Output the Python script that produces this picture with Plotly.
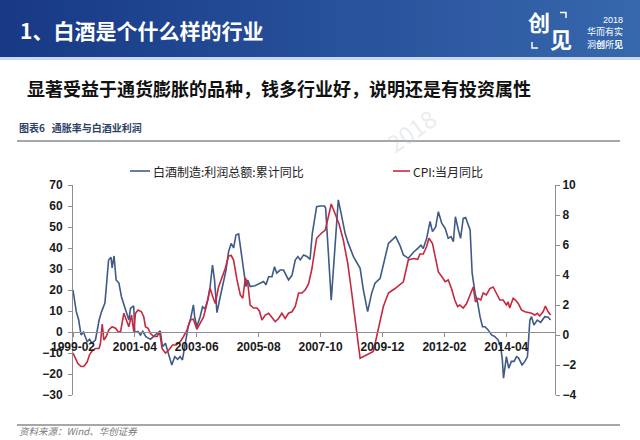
import plotly.graph_objects as go

# ---------------- data ----------------
tick_dates = ["1999-02-01", "2001-04-01", "2003-06-01", "2005-08-01",
              "2007-10-01", "2009-12-01", "2012-02-01", "2014-04-01"]
tick_labels = ["1999-02", "2001-04", "2003-06", "2005-08",
               "2007-10", "2009-12", "2012-02", "2014-04"]

series_names = ["白酒制造:利润总额:累计同比", "CPI:当月同比"]

liquor_dates = [
    "1999-02-01", "1999-03-15", "1999-04-15", "1999-05-15", "1999-06-15", "1999-08-01", "1999-09-01",
    "1999-10-01", "1999-11-15", "2000-01-01", "2000-02-01", "2000-03-15", "2000-05-01", "2000-06-01",
    "2000-06-15", "2000-07-10", "2000-08-05", "2000-09-10", "2000-10-12", "2000-11-12", "2000-12-10",
    "2001-01-15", "2001-02-05", "2001-03-18", "2001-04-01", "2001-05-12", "2001-06-12", "2001-07-12",
    "2001-08-20", "2001-10-18", "2001-12-01", "2002-01-25", "2002-02-20", "2002-03-20", "2002-04-28",
    "2002-06-10", "2002-07-18", "2002-08-25", "2002-10-01", "2002-11-01", "2002-12-01", "2003-01-06",
    "2003-02-12", "2003-03-12", "2003-04-20", "2003-05-06", "2003-06-03", "2003-07-15", "2003-08-15",
    "2003-09-15", "2003-10-20", "2003-11-20", "2003-12-20", "2004-01-15", "2004-02-15", "2004-03-28",
    "2004-05-10", "2004-06-10", "2004-07-12", "2004-08-15", "2004-09-15", "2004-10-15", "2004-11-18",
    "2004-12-20", "2005-01-20", "2005-02-20", "2005-03-15", "2005-04-15", "2005-06-15", "2005-08-18",
    "2005-10-03", "2005-11-03", "2005-12-06", "2006-01-18", "2006-02-20", "2006-03-20", "2006-05-03",
    "2006-06-15", "2006-07-12", "2006-08-18", "2006-10-01", "2006-11-12", "2006-12-15", "2007-01-15",
    "2007-02-27", "2007-04-10", "2007-05-20", "2007-06-18", "2007-08-12", "2007-09-25", "2007-11-20",
    "2007-12-05", "2008-02-15", "2008-05-15", "2008-06-20", "2008-08-10", "2008-09-20", "2008-11-25",
    "2009-02-18", "2009-04-01", "2009-05-25", "2009-07-15", "2009-08-27", "2009-11-01", "2010-02-15",
    "2010-03-27", "2010-05-18", "2010-07-15", "2010-08-25", "2010-10-27", "2011-01-01", "2011-02-25",
    "2011-04-06", "2011-05-06", "2011-06-18", "2011-08-01", "2011-09-01", "2011-10-12", "2011-11-15",
    "2011-12-28", "2012-02-10", "2012-03-20", "2012-04-25", "2012-05-25", "2012-06-20", "2012-07-28",
    "2012-08-25", "2012-09-28", "2012-10-28", "2012-12-25", "2013-01-20", "2013-02-27", "2013-04-01",
    "2013-05-01", "2013-06-01", "2013-07-03", "2013-08-12", "2013-09-25", "2013-11-06", "2013-12-18",
    "2014-01-20", "2014-02-10", "2014-02-25", "2014-04-03", "2014-05-03", "2014-06-06", "2014-07-10",
    "2014-08-10", "2014-09-06", "2014-10-20", "2014-11-25", "2014-12-28", "2015-01-28", "2015-02-18",
    "2015-03-20", "2015-05-03", "2015-06-15", "2015-08-06", "2015-09-18", "2015-10-20",
]
liquor_profit_yoy = [
    20, 9.7, 5.7, -1.4, 0, -4.6, -3.5,
    -5.3, -3.8, 5.7, 9.7, 13.8, 34.3, 35.6,
    30.5, 36.2, 24.8, 23.3, 16.8, 12.9, 9.7,
    5.7, 11.3, 12.4, -0.3, 0.3, -1.4, 0.3,
    -2.2, -3.5, -2, -0.3, 0.5, -7, -5.4,
    -11, -15.7, -11.7, -13, -11.7, -13.3, -5.4,
    2.5, 5.7, 12.9, 7.3, 2.5, 7.3, 12,
    11, 15.2, 21.6, 31.9, 24.8, 9.2, 16.8,
    24.8, 29.5, 38.2, 42.2, 40, 46.2, 46.7,
    37.5, 29.5, 21.6, 24.8, 21.6, 22, 23,
    24, 22.5, 26.3, 26.3, 31.1, 28, 29.5,
    29.5, 27.2, 24.8, 27, 34.3, 35.9, 34.3,
    36.7, 36, 34.6, 47, 59.7, 60, 60,
    59, 15.2, 62.9, 56.5, 47, 42.2, 35.9,
    30.3, 20, 9.7, 18.4, 23.2, 25.6, 42.2,
    43.7, 45.4, 41, 36.7, 35.1, 38, 39.8,
    41.3, 39.8, 44.5, 52.7, 47.8, 50, 57.3,
    51.8, 49.4, 44.6, 45.4, 43, 54.9, 48.6,
    44.6, 54.1, 54.5, 48.6, 28, 18.4, 13.7,
    7.3, 2.5, 2.5, 1, -1.4, -2.2, -3.8,
    -7, -13.3, -22, -11.7, -17.3, -14, -14,
    -11.7, -12.4, -15.7, -14, -11.7, 5.7, 7.3,
    3.3, 5.7, 4.6, 7.3, 7, 5.7,
]

cpi_dates = [
    "1999-02-01", "1999-04-05", "1999-05-15", "1999-06-18", "1999-08-01", "1999-09-01", "1999-10-12",
    "1999-11-15", "2000-01-01", "2000-01-18", "2000-02-10", "2000-03-01", "2000-04-01", "2000-05-03",
    "2000-06-15", "2000-07-28", "2000-09-01", "2000-10-01", "2000-11-12", "2000-12-10", "2001-01-15",
    "2001-02-18", "2001-03-18", "2001-04-10", "2001-05-12", "2001-06-25", "2001-07-25", "2001-08-15",
    "2001-09-18", "2001-10-18", "2001-12-01", "2002-01-12", "2002-02-12", "2002-03-15", "2002-04-28",
    "2002-06-10", "2002-07-28", "2002-09-10", "2002-11-03", "2002-12-15", "2003-01-28", "2003-03-12",
    "2003-04-20", "2003-06-03", "2003-07-15", "2003-08-28", "2003-10-10", "2003-11-20", "2003-12-20",
    "2004-01-25", "2004-03-06", "2004-04-18", "2004-06-01", "2004-07-12", "2004-08-15", "2004-09-15",
    "2004-10-28", "2004-12-10", "2005-01-10", "2005-02-12", "2005-03-15", "2005-04-15", "2005-05-28",
    "2005-07-10", "2005-08-10", "2005-09-12", "2005-10-25", "2005-12-06", "2006-01-18", "2006-03-01",
    "2006-04-12", "2006-05-25", "2006-07-06", "2006-08-18", "2006-10-01", "2006-11-12", "2006-12-25",
    "2007-02-06", "2007-03-18", "2007-05-01", "2007-06-12", "2007-08-12", "2007-10-15", "2007-12-01",
    "2008-01-10", "2008-02-15", "2008-04-03", "2008-05-25", "2008-07-18", "2008-09-12", "2008-11-03",
    "2008-12-25", "2009-02-01", "2009-02-18", "2009-08-06", "2009-10-10", "2009-12-12", "2010-02-15",
    "2010-05-10", "2010-08-25", "2010-10-27", "2011-01-01", "2011-02-25", "2011-03-25", "2011-05-06",
    "2011-06-18", "2011-07-18", "2011-09-01", "2011-10-03", "2011-11-15", "2011-12-28", "2012-02-10",
    "2012-03-20", "2012-05-01", "2012-06-12", "2012-07-18", "2012-08-15", "2012-09-28", "2012-11-10",
    "2012-12-25", "2013-02-03", "2013-03-03", "2013-04-06", "2013-05-10", "2013-06-10", "2013-07-20",
    "2013-09-03", "2013-10-15", "2013-11-28", "2014-01-10", "2014-02-20", "2014-04-03", "2014-04-25",
    "2014-05-15", "2014-06-28", "2014-07-28", "2014-09-01", "2014-10-12", "2014-11-25", "2015-01-06",
    "2015-02-18", "2015-04-01", "2015-05-03", "2015-06-03", "2015-07-15", "2015-08-15", "2015-09-18",
    "2015-10-20",
]
cpi_yoy = [
    -1.2, -1.9, -2.1, -2.1, -1.8, -1.3, -1.0,
    -0.9, -0.9, -0.55, 0.73, -0.33, -0.1, 0.33,
    0.55, 0.45, 0.22, 0.22, 1.45, 1.1, 0.55,
    1.33, 0.22, 1.45, 1.67, 1.55, 1.2, 0.55,
    0.45, 0.1, -0.1, -0.1, 0.22, -0.9, -1.2,
    -1.0, -0.67, -0.67, -0.45, -0.1, 0.33, 1.0,
    1.05, 0.38, 0.8, 1.2, 2.1, 3.1, 2.6,
    2.1, 3.2, 3.8, 4.45, 5.27, 5.3, 5.0,
    3.67, 2.67, 2.45, 3.8, 3.45, 2.0, 1.8,
    1.8, 1.6, 1.0, 1.33, 1.45, 1.2, 0.9,
    1.1, 1.45, 1.1, 1.45, 1.55, 1.9, 2.8,
    2.8, 3.0, 3.4, 4.4, 6.45, 6.8, 7.0,
    7.9, 8.73, 8.1, 7.4, 6.33, 4.8, 2.8,
    0.8, -0.78, -1.55, -1.1, 0.33, 1.9, 2.8,
    3.1, 3.55, 5.0, 5.1, 5.05, 5.4, 5.4,
    5.9, 6.45, 6.1, 5.2, 4.2, 3.9, 3.55,
    3.67, 3.1, 2.33, 1.9, 2.0, 1.8, 2.1,
    2.67, 3.2, 2.2, 2.45, 2.33, 2.8, 2.67,
    3.1, 3.2, 2.8, 2.33, 2.33, 2.0, 2.2,
    1.8, 2.45, 2.33, 2.1, 1.67, 1.55, 1.5,
    1.45, 1.33, 1.45, 1.27, 1.55, 1.93, 1.55,
    1.33,
]

# ---------------- layout helpers (pixel -> paper) ----------------
W, H = 640, 440
L, R, T, B = 73, 555, 185, 395


def px(x):
    return (x - L) / (R - L)


def py(y):
    return (B - y) / (B - T)


BLUE = "#3f5a87"
RED = "#c8283e"

fig = go.Figure()
fig.add_trace(go.Scatter(
    x=liquor_dates, y=liquor_profit_yoy, mode="lines", name=series_names[0],
    line=dict(color=BLUE, width=1.6), yaxis="y", showlegend=False))
fig.add_trace(go.Scatter(
    x=cpi_dates, y=cpi_yoy, mode="lines", name=series_names[1],
    line=dict(color=RED, width=1.6), yaxis="y2", showlegend=False))

tickfont = dict(family="Liberation Sans, Arial", size=12, color="#1a1a1a", weight="bold")
axcol = "#8f8f8f"

shapes = []
# header gradient
n = 40
c0 = (0x17, 0x39, 0x86)
c1 = (0x36, 0x67, 0xad)
for i in range(n):
    t = i / (n - 1)
    col = "rgb(%d,%d,%d)" % tuple(round(a + (b - a) * t) for a, b in zip(c0, c1))
    shapes.append(dict(type="rect", xref="paper", yref="paper",
                       x0=px(i * W / n), x1=px((i + 1) * W / n + 1),
                       y0=py(57), y1=py(0), fillcolor=col, line=dict(width=0), layer="below"))
shapes.append(dict(type="rect", xref="paper", yref="paper", x0=px(0), x1=px(W),
                   y0=py(60), y1=py(57), fillcolor="#c9d8ee", line=dict(width=0), layer="below"))
# rules
for yy in (141, 425):
    shapes.append(dict(type="line", xref="paper", yref="paper", x0=px(17), x1=px(620),
                       y0=py(yy), y1=py(yy), line=dict(color="#a3a8ad", width=2)))
# logo brackets
shapes.append(dict(type="path", xref="paper", yref="paper",
                   path="M %f,%f L %f,%f L %f,%f" % (px(560), py(12.5), px(566), py(12.5), px(566), py(18)),
                   line=dict(color="white", width=1.5)))
shapes.append(dict(type="path", xref="paper", yref="paper",
                   path="M %f,%f L %f,%f L %f,%f" % (px(532), py(42), px(532), py(48), px(538), py(48)),
                   line=dict(color="white", width=1.5)))
# legend line samples
for (x0, x1), col in (((130, 150), BLUE), ((393, 410), RED)):
    shapes.append(dict(type="line", xref="paper", yref="paper", x0=px(x0), x1=px(x1),
                       y0=py(171), y1=py(171), line=dict(color=col, width=1.6)))

cjk = "Noto Sans CJK SC"
ann = []


def A(x, y, text, size, color, xanchor="left", family=cjk, angle=0):
    ann.append(dict(xref="paper", yref="paper", x=px(x), y=py(y), text=text,
                    showarrow=False, xanchor=xanchor, yanchor="middle", textangle=angle,
                    font=dict(family=family, size=size, color=color)))


A(18, 30, "<b>1、白酒是个什么样的行业</b>", 21, "white")
A(25, 88, "<b>显著受益于通货膨胀的品种，钱多行业好，说明还是有投资属性</b>", 18, "#111111")
A(17, 127, "<b>图表6</b>   <b>通胀率与白酒业利润</b>", 10, "#2d3f66")
A(17, 431, "<i>资料来源：Wind、华创证券</i>", 9.5, "#7a7a7a")
A(410, 130, "2018", 24, "rgba(185,190,200,0.30)", xanchor="center", angle=-35)
# legend texts
A(151, 171, series_names[0], 12, "#222222")
A(411, 171, series_names[1], 12, "#222222")
# logo
A(539, 21, "<b>创</b>", 22, "white", xanchor="center")
A(561, 38, "<b>见</b>", 22, "white", xanchor="center")
A(625, 20, "2018", 9, "white", xanchor="right", family="Liberation Sans, Arial")
A(625, 32, "华而有实", 9, "white", xanchor="right")
A(625, 44, "洞<b>创</b>所<b>见</b>", 9, "white", xanchor="right")

fig.update_layout(
    width=W, height=H,
    margin=dict(l=L, r=W - R, t=T, b=H - B),
    paper_bgcolor="white", plot_bgcolor="white",
    showlegend=False,
    xaxis=dict(type="date", range=["1999-02-01", "2015-12-15"],
               tickvals=tick_dates, ticktext=tick_labels,
               anchor="free", position=0.3,
               showline=True, linecolor=axcol, linewidth=1,
               ticks="outside", ticklen=4, tickcolor=axcol,
               showgrid=False, zeroline=False, tickfont=tickfont),
    yaxis=dict(range=[-30, 70], tickvals=list(range(-30, 71, 10)),
               showline=True, linecolor=axcol, linewidth=1,
               ticks="outside", ticklen=4, tickcolor=axcol, ticklabelstandoff=3,
               showgrid=False, zeroline=False, tickfont=tickfont),
    yaxis2=dict(range=[-4, 10], tickvals=list(range(-4, 11, 2)), overlaying="y", side="right",
                showline=True, linecolor=axcol, linewidth=1,
                ticks="outside", ticklen=4, tickcolor=axcol,
                showgrid=False, zeroline=False, tickfont=tickfont),
    shapes=shapes, annotations=ann,
)

fig.write_html("out.html", config={"displayModeBar": False},
               post_script="document.body.style.margin='0';document.body.style.overflow='hidden';")
